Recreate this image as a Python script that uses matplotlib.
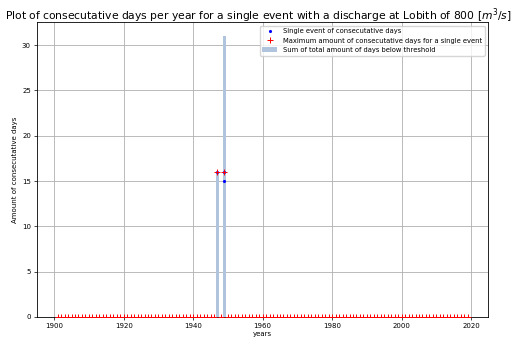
import matplotlib

matplotlib.use("Agg")
import matplotlib.pyplot as plt
import numpy as np

# Años con eventos bajo el umbral (el resto de años queda en cero)
years = np.arange(1901, 2020)
event_years = [1947, 1949, 1949]
event_days = [16, 16, 15]          # eventos individuales de días consecutivos
max_years = [1947, 1949]
max_days = [16, 16]                # máximo por año
total_years = [1947, 1949]
total_days = [16, 31]              # suma total de días bajo el umbral

maxi = np.zeros(len(years))
total = np.zeros(len(years))
for y, d in zip(max_years, max_days):
    maxi[years == y] = d
for y, d in zip(total_years, total_days):
    total[years == y] = d

fig = plt.figure(figsize=(5.16, 3.4), dpi=100)
ax = fig.add_axes([0.072, 0.068, 0.874, 0.867])

bars = ax.bar(years, total, width=0.8, color="#b0c4de", zorder=2)
pts, = ax.plot(event_years, event_days, ".", color="blue", markersize=2.5, zorder=3)
plus, = ax.plot(years, maxi, "+", color="red", markersize=3.8,
                markeredgewidth=0.7, zorder=4)

ax.set_xlim(1895.1, 2024.9)
ax.set_ylim(0, 32.55)
ax.grid(True, color="#b0b0b0", linewidth=0.6, zorder=0)
ax.set_axisbelow(True)
ax.tick_params(labelsize=5, length=2.5, width=0.5, pad=2)
for s in ax.spines.values():
    s.set_linewidth(0.6)
ax.set_xlabel("years", fontsize=5, labelpad=1)
ax.set_ylabel("Amount of consecutative days", fontsize=5, labelpad=3)
fig.suptitle(r"Plot of consecutative days per year for a single event with a discharge at Lobith of 800 [$m^3/s$]",
             fontsize=7.75, x=0.5, y=0.982, va="top")

ax.legend([pts, plus, bars],
          ["Single event of consecutative days",
           "Maximum amount of consecutative days for a single event",
           "Sum of total amount of days below threshold"],
          loc="upper right", fontsize=4.9, framealpha=0.8, borderpad=0.4,
          handlelength=2.2)

fig.savefig("out.png", dpi=100)
